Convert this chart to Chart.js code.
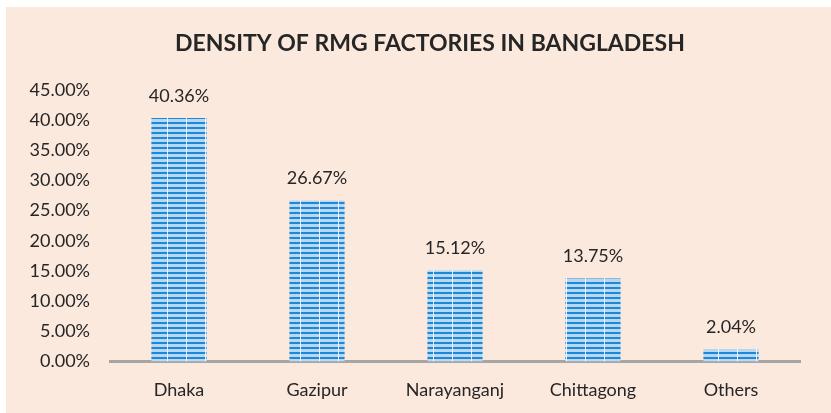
<!DOCTYPE html>
<html>
<head>
<meta charset="utf-8">
<script src="https://cdn.jsdelivr.net/npm/chart.js@4/dist/chart.umd.min.js"></script>
<style>
  html, body { margin: 0; padding: 0; background: #ffffff; }
  #wrap { position: absolute; left: 6px; top: 7px; width: 825px; height: 406px; background: #FCE9DE; }
  canvas { display: block; }
</style>
</head>
<body>
<div id="wrap"><canvas id="c" width="825" height="406"></canvas></div>
<script>
const categories = ["Dhaka", "Gazipur", "Narayanganj", "Chittagong", "Others"];
const densityValues = [40.36, 26.67, 15.12, 13.75, 2.04];
const tickValues = [0, 5, 10, 15, 20, 25, 30, 35, 40, 45];
const titleText = "DENSITY OF RMG FACTORIES IN BANGLADESH";

const FONT = "Lato, 'Open Sans', 'Liberation Sans', sans-serif";

function makePattern() {
  const p = document.createElement('canvas');
  p.width = 19; p.height = 5;
  const g = p.getContext('2d');
  g.fillStyle = '#B8D8F2';
  g.fillRect(0, 0, 19, 5);
  g.fillStyle = '#1C88D8';
  g.fillRect(0, 0, 19, 2);
  g.fillStyle = 'rgba(255,255,255,0.85)';
  g.fillRect(9, 0, 1, 5);
  return g.createPattern(p, 'repeat');
}

const labelPlugin = {
  id: 'valueLabels',
  afterDatasetsDraw(chart) {
    const ctx = chart.ctx;
    const meta = chart.getDatasetMeta(0);
    ctx.save();
    ctx.font = "18px " + FONT;
    ctx.fillStyle = '#262626';
    ctx.textAlign = 'center';
    ctx.textBaseline = 'middle';
    meta.data.forEach((bar, i) => {
      ctx.fillText(densityValues[i].toFixed(2) + '%', bar.x, bar.y - 22);
    });
    // chart title
    ctx.font = "bold 23px " + FONT;
    ctx.fillText(titleText, 424, 37);
    ctx.restore();
  }
};

new Chart(document.getElementById('c'), {
  type: 'bar',
  data: {
    labels: categories,
    datasets: [{
      data: densityValues,
      backgroundColor: makePattern(),
      borderWidth: 0,
      barPercentage: 0.4,
      categoryPercentage: 1.0
    }]
  },
  options: {
    responsive: false,
    animation: false,
    layout: { padding: { left: 0, right: 31, top: 83, bottom: -6 } },
    plugins: {
      legend: { display: false },
      tooltip: { enabled: false },
      title: { display: false }
    },
    scales: {
      x: {
        grid: { display: false, drawTicks: false },
        border: { display: true, color: '#A6A6A6', width: 3 },
        ticks: { color: '#262626', font: { family: FONT, size: 18 }, padding: 18 }
      },
      y: {
        min: 0, max: 45,
        afterBuildTicks(scale) { scale.ticks = tickValues.map(v => ({ value: v })); },
        afterFit(scale) { scale.width = 104; },
        grid: { display: false, drawTicks: false },
        border: { display: false },
        ticks: {
          color: '#262626',
          font: { family: FONT, size: 18 },
          padding: 20,
          callback: v => v.toFixed(2) + '%'
        }
      }
    }
  },
  plugins: [labelPlugin]
});
</script>
</body>
</html>
